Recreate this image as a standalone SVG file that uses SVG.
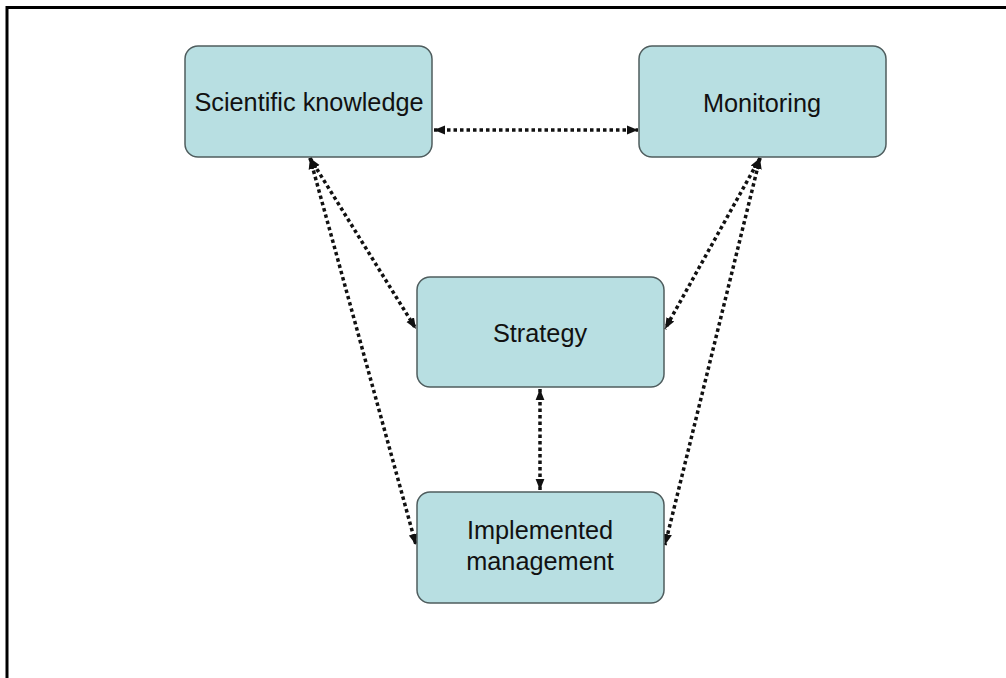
<svg xmlns="http://www.w3.org/2000/svg" width="1006" height="678" viewBox="0 0 1006 678">
<style>
.box{fill:#b8dfe2;stroke:#4f5d5e;stroke-width:1.5}
.lbl{font-family:"Liberation Sans",Arial,sans-serif;font-size:25.3px;fill:#111;text-anchor:middle}
.con{fill:none;stroke:#111;stroke-width:3.5;stroke-dasharray:3.5 3;marker-start:url(#ah);marker-end:url(#ah)}
</style>
<defs>
<marker id="ah" viewBox="0 0 10 10" refX="10" refY="5" markerWidth="11" markerHeight="11" markerUnits="userSpaceOnUse" orient="auto-start-reverse">
<path d="M0,1 L10,5 L0,9 Z" fill="#111"/>
</marker>
</defs>
<rect x="0" y="0" width="1006" height="678" fill="#fff"/>
<path d="M7,678 V7.5 H1006" fill="none" stroke="#000" stroke-width="3"/>
<g id="connectors">
<line class="con" x1="434" y1="130" x2="638" y2="130"/>
<line class="con" x1="310" y1="158" x2="416" y2="329"/>
<line class="con" x1="310" y1="158" x2="416" y2="545"/>
<line class="con" x1="760" y1="158" x2="665" y2="329"/>
<line class="con" x1="760" y1="158" x2="665" y2="545"/>
<line class="con" x1="540" y1="389" x2="540" y2="490"/>
</g>
<g id="scientific-knowledge">
<rect class="box" x="185" y="46" width="247" height="111" rx="13"/>
<text class="lbl" x="309" y="111">Scientific knowledge</text>
</g>
<g id="monitoring">
<rect class="box" x="639" y="46" width="247" height="111" rx="13"/>
<text class="lbl" x="762" y="112">Monitoring</text>
</g>
<g id="strategy">
<rect class="box" x="417" y="277" width="247" height="110" rx="13"/>
<text class="lbl" x="540" y="342">Strategy</text>
</g>
<g id="implemented-management">
<rect class="box" x="417" y="492" width="247" height="111" rx="13"/>
<text class="lbl" x="540" y="539">Implemented</text>
<text class="lbl" x="540" y="570">management</text>
</g>
</svg>
